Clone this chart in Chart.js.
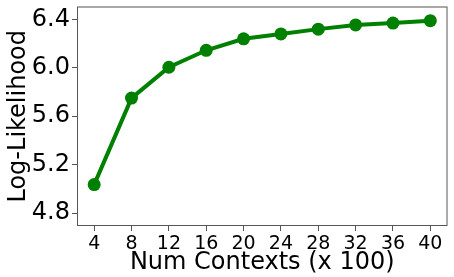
<!DOCTYPE html>
<html>
<head>
<meta charset="utf-8">
<script src="https://cdn.jsdelivr.net/npm/chart.js@4/dist/chart.umd.min.js"></script>
<style>
  html, body { margin: 0; padding: 0; background: #fff; }
  #wrap { width: 454px; height: 277px; }
</style>
</head>
<body>
<div id="wrap"><canvas id="llChart"></canvas></div>
<script>
// ----- data -----
const numContexts = [4, 8, 12, 16, 20, 24, 28, 32, 36, 40];
const logLikelihood = [5.035, 5.75, 6.005, 6.145, 6.24, 6.28, 6.32, 6.355, 6.37, 6.39];
const yTickValues = [4.8, 5.2, 5.6, 6.0, 6.4];

const GREEN = "#008000";
const AXIS = "#555";
const FONT = "'DejaVu Sans', sans-serif";

// matplotlib-style box around the plot area
const frame = {
  id: "frame",
  afterDraw(chart) {
    const { ctx, chartArea: a } = chart;
    ctx.save();
    ctx.strokeStyle = AXIS;
    ctx.lineWidth = 1;
    ctx.strokeRect(a.left + 0.5, a.top + 0.5, a.right - a.left - 1, a.bottom - a.top - 1);
    ctx.restore();
  }
};

new Chart(document.getElementById("llChart"), {
  type: "line",
  data: {
    datasets: [{
      data: numContexts.map((x, i) => ({ x, y: logLikelihood[i] })),
      borderColor: GREEN,
      backgroundColor: GREEN,
      borderWidth: 4,
      pointRadius: 6.5,
      pointBorderWidth: 0,
      pointBackgroundColor: GREEN,
      tension: 0
    }]
  },
  options: {
    responsive: true,
    maintainAspectRatio: false,
    animation: false,
    layout: { padding: { top: 5, right: 2, left: 0, bottom: 0 } },
    plugins: { legend: { display: false }, tooltip: { enabled: false } },
    scales: {
      x: {
        type: "linear",
        min: 2.16,
        max: 41.84,
        afterBuildTicks: s => { s.ticks = numContexts.map(v => ({ value: v })); },
        afterFit: s => { s.height = 51; s.paddingLeft = 0; s.paddingRight = 0; },
        grid: { drawOnChartArea: false, drawTicks: true, tickLength: 5, color: AXIS },
        border: { display: false },
        ticks: { color: "#000", font: { family: FONT, size: 19 }, padding: 2, maxRotation: 0 },
        title: { display: true, text: "Num Contexts (x 100)", color: "#000",
                 font: { family: FONT, size: 24 }, padding: 0 }
      },
      y: {
        min: 4.693,
        max: 6.507,
        afterBuildTicks: s => { s.ticks = yTickValues.map(v => ({ value: v })); },
        afterFit: s => { s.width = 77; s.paddingTop = 0; s.paddingBottom = 0; },
        grid: { drawOnChartArea: false, drawTicks: true, tickLength: 5, color: AXIS },
        border: { display: false },
        ticks: { color: "#000", font: { family: FONT, size: 24 }, padding: 2,
                 callback: v => v.toFixed(1) },
        title: { display: true, text: "Log-Likelihood", color: "#000",
                 font: { family: FONT, size: 24 }, padding: 4 }
      }
    }
  },
  plugins: [frame]
});
</script>
</body>
</html>
